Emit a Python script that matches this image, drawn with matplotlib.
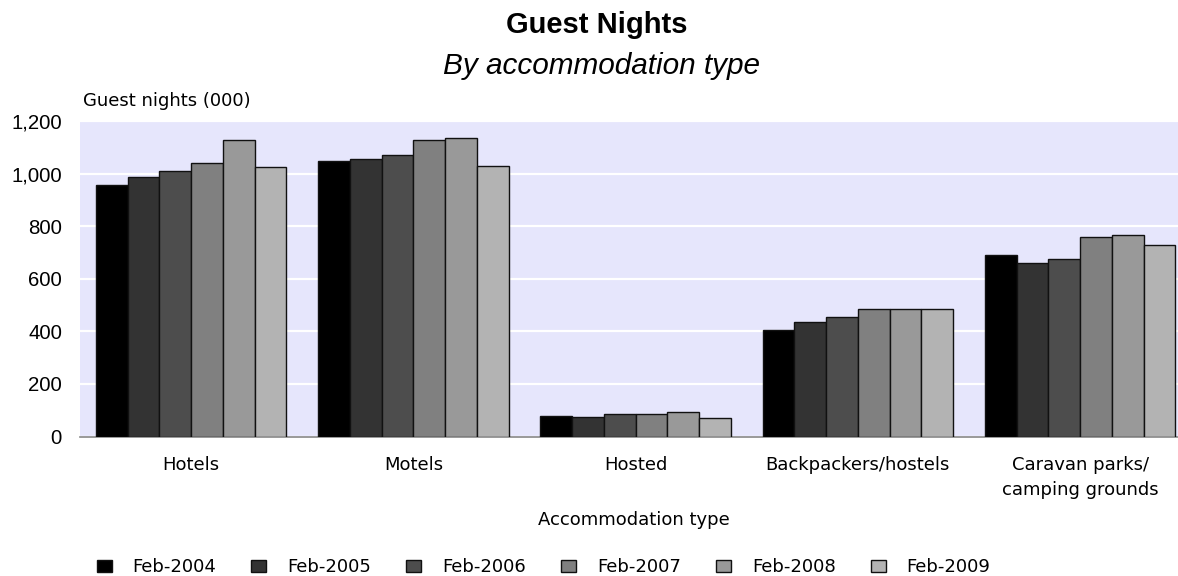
import matplotlib.pyplot as plt
import numpy as np

plt.rcParams['font.family'] = ['Liberation Sans', 'DejaVu Sans']

# Categories and series (guest nights, thousands)
categories = ['Hotels', 'Motels', 'Hosted', 'Backpackers/hostels', 'Caravan parks/\ncamping grounds']
years = ['Feb-2004', 'Feb-2005', 'Feb-2006', 'Feb-2007', 'Feb-2008', 'Feb-2009']
values = {
    'Feb-2004': [958, 1049, 78, 406, 692],
    'Feb-2005': [987, 1055, 76, 434, 661],
    'Feb-2006': [1009, 1069, 86, 456, 675],
    'Feb-2007': [1040, 1128, 86, 486, 760],
    'Feb-2008': [1128, 1136, 93, 486, 767],
    'Feb-2009': [1024, 1030, 69, 486, 728],
}
colors = ['#000000', '#333333', '#4d4d4d', '#808080', '#999999', '#b3b3b3']

small = ['DejaVu Sans']  # wide font for the small labels

fig = plt.figure(figsize=(11.78, 5.76), dpi=100)
ax = fig.add_axes([80 / 1178, 139.5 / 576, 1098 / 1178, 315.5 / 576])
ax.set_facecolor('#e6e6fc')

x = np.arange(len(categories))
w = 1 / 7
for i, yr in enumerate(years):
    ax.bar(x + (i - 2.5) * w, values[yr], width=w, color=colors[i],
           edgecolor='#111111', linewidth=1.0, label=yr, zorder=3)

ax.set_xlim(-0.5, 4.44)
ax.set_ylim(0, 1200)
ax.set_yticks(range(0, 1201, 200))
ax.set_yticklabels([f'{v:,}' for v in range(0, 1201, 200)], fontsize=14.7)
ax.yaxis.grid(True, color='white', linewidth=1.6, zorder=1)
ax.set_axisbelow(True)
ax.tick_params(axis='y', length=0, pad=13)
ax.tick_params(axis='x', length=0, pad=14)
ax.set_xticks(x)
ax.set_xticklabels(categories, fontsize=13, family=small, linespacing=1.5, va='top')
for s in ['top', 'right', 'left']:
    ax.spines[s].set_visible(False)
ax.spines['bottom'].set_color('#888888')
ax.spines['bottom'].set_linewidth(1.2)

# titles and axis texts
fig.text(596.5 / 1178, 1 - 25 / 576, 'Guest Nights', ha='center', va='center',
         fontsize=21, fontweight='bold')
fig.text(601.5 / 1178, 1 - 66 / 576, 'By accommodation type', ha='center', va='center',
         fontsize=21.4, style='italic')
fig.text(83 / 1178, 1 - 101 / 576, 'Guest nights (000)', ha='left', va='center',
         fontsize=13, family=small)
fig.text(633.5 / 1178, 1 - 520 / 576, 'Accommodation type', ha='center', va='center',
         fontsize=13, family=small)

fig.legend(loc='center', bbox_to_anchor=(543.5 / 1178, 1 - 567 / 576), ncol=6, frameon=False,
           prop={'family': small, 'size': 13}, handlelength=0.83, handleheight=0.67,
           columnspacing=1.94, handletextpad=1.16)

plt.savefig('out.png', dpi=100)
